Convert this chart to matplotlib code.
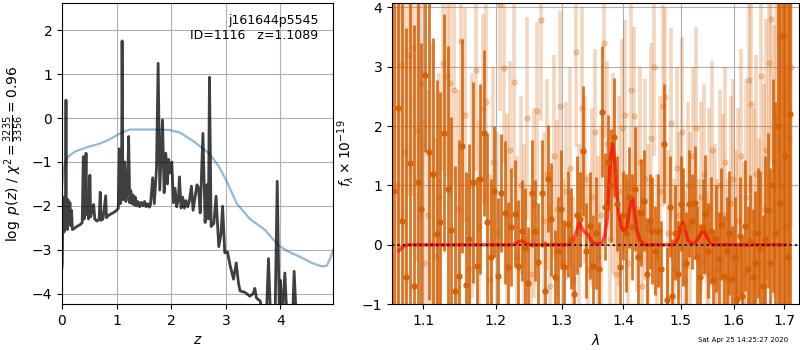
import numpy as np
import matplotlib
matplotlib.use('Agg')
import matplotlib.pyplot as plt
from matplotlib.ticker import NullLocator

# --- left panel: redshift probability ---
z_pz = [0.000, 0.005, 0.012, 0.018, 0.024, 0.030, 0.036, 0.042, 0.050, 0.058,
        0.066, 0.073, 0.080, 0.090, 0.100, 0.110, 0.120, 0.130, 0.145, 0.160,
        0.175, 0.190, 0.220, 0.260, 0.300, 0.340, 0.370, 0.390, 0.405, 0.420,
        0.440, 0.455, 0.470, 0.485, 0.500, 0.510, 0.525, 0.550, 0.580, 0.600,
        0.640, 0.680, 0.700, 0.715, 0.750, 0.800, 0.815, 0.850, 0.900, 0.950,
        1.000, 1.030, 1.050, 1.070, 1.090, 1.100, 1.115, 1.150, 1.170, 1.200,
        1.220, 1.240, 1.260, 1.280, 1.300, 1.320, 1.340, 1.360, 1.390, 1.420,
        1.450, 1.480, 1.510, 1.540, 1.570, 1.600, 1.620, 1.660, 1.690, 1.730,
        1.760, 1.790, 1.840, 1.870, 1.900, 1.930, 1.950, 1.980, 2.010, 2.040,
        2.070, 2.100, 2.130, 2.150, 2.180, 2.210, 2.240, 2.270, 2.300, 2.330,
        2.370, 2.400, 2.430, 2.470, 2.500, 2.530, 2.580, 2.620, 2.650, 2.680,
        2.700, 2.730, 2.780, 2.820, 2.850, 2.870, 2.910, 2.940, 2.980, 3.030,
        3.080, 3.140, 3.190, 3.230, 3.260, 3.350, 3.440, 3.500, 3.530, 3.560,
        3.630, 3.680, 3.740, 3.780, 3.820, 3.900, 3.940, 3.980, 4.000, 4.030,
        4.080, 4.120, 4.220, 4.250, 4.290, 4.970]
logpz = [-3.40, -3.30, -2.40, -1.86, -2.50, -1.80, -2.60, -2.00, -2.55, -2.20,
         -1.90, 0.41, -2.40, -1.90, -2.54, -1.86, -2.30, -2.16, -1.93, -2.45,
         -2.10, -2.54, -2.52, -2.48, -2.45, -2.42, -2.38, -0.88, -2.30, -2.10,
         -0.80, -2.20, -1.86, -2.30, -2.16, -1.30, -2.25, -2.10, -1.97, -2.30,
         -2.35, -2.30, -1.69, -2.33, -2.30, -1.77, -2.27, -2.22, -2.18, -2.15,
         -2.10, -2.06, -0.70, -1.95, -1.60, 1.76, -1.86, -1.00, -1.90, -1.60,
         -0.42, -1.93, -1.65, -1.95, -1.75, -1.98, -1.80, -2.00, -1.90, -2.02,
         -1.92, -2.00, -1.90, -2.02, -1.95, -2.03, -1.97, -1.36, -1.95, -1.15,
         1.25, -1.64, -0.04, -1.70, -0.80, -1.50, -0.94, -1.25, -1.00, -1.93,
         -1.60, -2.02, -1.85, -1.34, -2.05, -1.80, -2.05, -1.88, -2.02, -1.90,
         -1.55, -2.10, -1.85, -1.52, -1.60, -2.16, -0.35, -2.38, -1.52, -2.30,
         0.93, -2.47, -2.40, -1.78, -2.47, -2.93, -2.65, -2.01, -3.07, -3.05,
         -3.37, -3.67, -3.30, -3.75, -3.94, -3.97, -4.06, -4.00, -3.88, -4.10,
         -4.17, -4.60, -4.60, -3.20, -4.60, -4.60, -1.44, -4.60, -3.70, -4.60,
         -3.53, -4.60, -4.60, -3.49, -4.60, -4.60]
z_chi2 = [0.00, 0.02, 0.05, 0.11, 0.24, 0.49, 0.67, 0.85, 1.09, 1.24,
          1.50, 1.70, 1.97, 2.16, 2.41, 2.69, 2.87, 3.02, 3.20, 3.44,
          3.72, 3.96, 4.14, 4.39, 4.57, 4.76, 4.85, 4.91, 4.97]
chi2_scaled = [-1.60, -1.30, -1.03, -0.88, -0.76, -0.65, -0.59, -0.50, -0.33, -0.26,
               -0.26, -0.26, -0.27, -0.33, -0.53, -0.80, -1.10, -1.45, -1.95, -2.30,
               -2.55, -2.90, -3.04, -3.18, -3.30, -3.38, -3.36, -3.20, -3.00]

# --- right panel: G141 spectrum (units of 1e-19) ---
dark_range = (1.062, 1.712)
dark_flux = [0.9, 2.3, 0.4, -0.55, 1.37, -0.69, 1.05, 0.6, 2.86, 1.57,
             1.19, 0.18, 0.38, 1.89, 0.94, 0.25, -0.78, -0.53, 1.66, -0.68,
             0.10, 1.05, -0.35, 1.11, 1.88, 0.39, -0.2, 0.9, -0.52, 0.87,
             0.54, -0.38, 0.3, 0.52, -0.35, 0.24, -0.05, -0.65, 0.87, 0.24,
             -0.29, 0.87, -0.78, 1.11, 0.43, -0.55, -0.1, 0.6, -0.38, 0.35,
             0.1, -0.83, 0.5, 0.43, 1.58, -0.1, 0.32, -0.35, 0.2, -0.41,
             2.24, 0.64, 1.39, 1.0, 1.81, 0.69, -0.38, 0.5, 0.2, 0.8,
             0.3, 0.94, -0.2, 0.54, 0.74, -0.5, 0.4, 0.24, -0.1, 0.24,
             -0.4, 1.70, -0.93, 0.64, -0.86, 0.2, -0.5, 0.69, 0.3, -0.3,
             0.69, 0.4, 0.71, -0.2, -0.55, 0.3, 0.52, -0.1, 0.24, -0.6,
             0.1, -0.24, 0.35, -0.52, -0.1, 0.2, -0.58, -0.2, -0.92, 0.15,
             -0.86, 0.32, -0.4, 0.07, -0.55, -0.3, 0.2, -0.05, -0.7, 0.1,
             0.58, -0.3, 1.0, 0.2, 2.0, 0.7, 3.52, 1.5, -0.2, 2.2]
dark_err = [4.5, 4.0, 3.8, 4.2, 3.6, 4.4, 3.2, 2.8, 1.3, 2.5,
            2.3, 2.6, 2.2, 2.0, 2.4, 1.9, 2.1, 2.3, 1.8, 1.9,
            1.6, 1.7, 1.5, 1.6, 1.4, 1.5, 1.3, 1.1, 1.3, 1.0,
            1.2, 1.1, 1.0, 0.9, 1.1, 0.85, 1.0, 0.95, 0.9, 0.85,
            1.0, 0.9, 0.85, 0.9, 0.95, 0.8, 0.9, 1.0, 0.8, 0.9,
            0.85, 0.95, 1.0, 0.8, 1.1, 0.8, 0.9, 0.85, 0.95, 0.8,
            1.1, 0.9, 0.8, 0.95, 1.0, 0.8, 0.9, 0.75, 1.0, 0.85,
            0.9, 1.05, 0.8, 0.9, 0.85, 0.95, 0.8, 0.9, 0.75, 0.95,
            0.8, 1.0, 0.9, 0.85, 0.95, 0.8, 0.9, 0.8, 1.0, 0.85,
            0.9, 0.8, 0.95, 0.85, 0.9, 0.8, 1.0, 0.8, 0.9, 0.85,
            0.9, 0.8, 0.95, 1.0, 0.9, 1.05, 0.9, 1.0, 0.95, 1.0,
            1.0, 1.1, 1.05, 1.1, 1.15, 1.2, 1.1, 1.3, 1.2, 1.4,
            1.3, 1.6, 1.8, 2.2, 3.2, 4.5, 5.0, 5.5, 6.0, 6.5]

light_range = (1.066, 1.714)
light_flux = [1.0, 3.02, 1.56, 3.2, 3.32, 1.92, 2.70, -0.3, 0.5, 1.2,
              -0.2, 0.8, 3.06, 2.85, 2.72, 2.61, 0.6, 3.44, 2.18, -0.4,
              1.0, 2.95, 0.3, 2.29, 2.40, -0.6, 1.4, 0.2, 4.05, 2.98,
              0.5, 1.6, 2.75, -0.2, 1.0, 0.1, 2.14, -0.5, 0.7, 2.26,
              3.79, 0.4, 1.2, -0.7, 1.5, 0.6, 2.34, -0.3, 0.9, 1.3,
              -0.6, 3.24, 0.2, 2.31, 1.1, -0.4, 0.8, 1.9, -0.2, 0.5,
              3.40, 1.7, 0.1, 1.2, -0.5, 0.9, 1.96, 2.19, -0.3, 2.61,
              2.17, 0.6, 1.4, -0.7, 1.1, 0.3, 1.8, 3.0, -0.2, 0.9,
              2.34, 2.49, 0.2, 2.05, -0.4, 1.3, 0.5, 1.9, -0.6, 1.0,
              0.3, 1.5, 1.96, -0.3, 0.8, 1.2, -0.5, 0.6, 1.6, 0.1,
              -0.4, 1.0, 0.5, 1.4, -0.6, 0.7, 1.1, -0.2, 0.4, 1.5,
              -0.5, 0.8, 2.78, 2.37, 0.2, 1.2, -0.3, 2.85, 0.6, 1.6,
              3.06, 3.81, 1.4, 2.15, 3.49, 1.0, 2.5, 0.3, 1.8, 3.0]
light_err = [3.0, 2.6, 2.8, 2.4, 2.5, 2.2, 2.3, 2.4, 2.1, 2.2,
             2.0, 2.1, 1.8, 1.7, 1.9, 1.6, 2.0, 1.7, 1.8, 1.6,
             1.9, 1.7, 1.8, 1.6, 1.7, 1.8, 1.6, 1.7, 1.8, 1.6,
             1.7, 1.5, 1.6, 1.7, 1.5, 1.6, 1.7, 1.5, 1.6, 1.5,
             1.7, 1.5, 1.6, 1.4, 1.7, 1.5, 1.6, 1.4, 1.5, 1.7,
             1.4, 1.6, 1.5, 1.7, 1.4, 1.6, 1.5, 1.4, 1.7, 1.5,
             1.6, 1.4, 1.5, 1.7, 1.4, 1.6, 1.5, 1.6, 1.4, 1.7,
             1.5, 1.4, 1.6, 1.5, 1.7, 1.4, 1.6, 1.5, 1.4, 1.6,
             1.7, 1.5, 1.4, 1.6, 1.5, 1.7, 1.4, 1.6, 1.5, 1.4,
             1.6, 1.5, 1.7, 1.4, 1.6, 1.5, 1.4, 1.7, 1.5, 1.6,
             1.5, 1.6, 1.7, 1.6, 1.7, 1.8, 1.7, 1.8, 1.9, 1.8,
             1.9, 2.0, 1.9, 2.0, 2.1, 2.0, 2.1, 2.2, 2.1, 2.2,
             2.3, 2.4, 2.3, 2.4, 2.5, 2.6, 2.5, 2.7, 2.6, 2.7]

model_wave = [1.068, 1.074, 1.080, 1.226, 1.232, 1.238, 1.244, 1.252, 1.310, 1.318,
              1.323, 1.328, 1.333, 1.338, 1.342, 1.346, 1.352, 1.364, 1.369, 1.373,
              1.376, 1.379, 1.382, 1.385, 1.388, 1.392, 1.397, 1.402, 1.406, 1.410,
              1.413, 1.416, 1.419, 1.423, 1.428, 1.436, 1.488, 1.495, 1.500, 1.504,
              1.508, 1.513, 1.520, 1.527, 1.533, 1.538, 1.543, 1.548, 1.555, 1.562,
              1.702]
model_flux = [-0.10, -0.02, 0.0, 0.0, 0.04, 0.07, 0.03, 0.0, 0.0, 0.08,
              0.22, 0.38, 0.25, 0.20, 0.17, 0.08, 0.02, 0.02, 0.15, 0.45,
              1.05, 1.50, 1.70, 1.45, 1.00, 0.55, 0.28, 0.22, 0.30, 0.55,
              0.75, 0.78, 0.55, 0.25, 0.08, 0.0, 0.0, 0.10, 0.28, 0.38,
              0.28, 0.08, 0.02, 0.04, 0.12, 0.20, 0.24, 0.15, 0.02, 0.0,
              0.0]

dark_wave = np.linspace(dark_range[0], dark_range[1], len(dark_flux))
light_wave = np.linspace(light_range[0], light_range[1], len(light_flux))
g141 = (0.835, 0.369, 0.0)

fig = plt.figure(figsize=(8, 3.5), dpi=100)

ax = fig.add_axes([0.0775, 0.131, 0.339, 0.86])
ax.plot(z_chi2, chi2_scaled, color='C0', alpha=0.5, lw=1.6)
ax.plot(z_pz, logpz, color='k', alpha=0.75, lw=2)
ax.set_xlim(0, 4.965)
ax.set_ylim(-4.24, 2.62)
ax.set_xticks([0, 1, 2, 3, 4])
ax.set_yticks([-4, -3, -2, -1, 0, 1, 2])
ax.grid()
ax.set_xlabel('$z$')
ax.set_ylabel(r'$\log\ p(z)$' + ' / ' + r'$\chi^2=\frac{3235}{3356}=0.96$')
ax.text(0.945, 0.965, 'j161644p5545\nID=1116   z=1.1089', transform=ax.transAxes,
        ha='right', va='top', fontsize=9)

ax = fig.add_axes([0.49, 0.131, 0.509, 0.86])
ax.errorbar(light_wave, light_flux, light_err, color=g141, alpha=0.25,
            marker='o', ms=3.6, linestyle='None', elinewidth=2.6, capsize=0)
ax.errorbar(dark_wave, dark_flux, dark_err, color=g141, alpha=0.85,
            marker='o', ms=3.6, linestyle='None', elinewidth=2.0, capsize=0)
ax.plot(model_wave, model_flux, color='r', alpha=0.65, lw=2.5)
ax.axhline(0, color='k', linestyle=':', lw=1.5, alpha=0.85)
ax.set_xscale('log')
ax.set_xlim(1.059, 1.731)
ax.set_ylim(-1.0, 4.07)
ax.set_xticks([1.1, 1.2, 1.3, 1.4, 1.5, 1.6, 1.7])
ax.set_xticklabels(['1.1', '1.2', '1.3', '1.4', '1.5', '1.6', '1.7'])
ax.xaxis.set_minor_locator(NullLocator())
ax.set_yticks([-1, 0, 1, 2, 3, 4])
ax.grid()
ax.set_xlabel(r'$\lambda$')
ax.set_ylabel(r'$f_\lambda\times10^{-19}$')

fig.text(0.985, 0.028, 'Sat Apr 25 14:25:27 2020', ha='right', va='center', fontsize=5)

fig.savefig('out.png', dpi=100)
